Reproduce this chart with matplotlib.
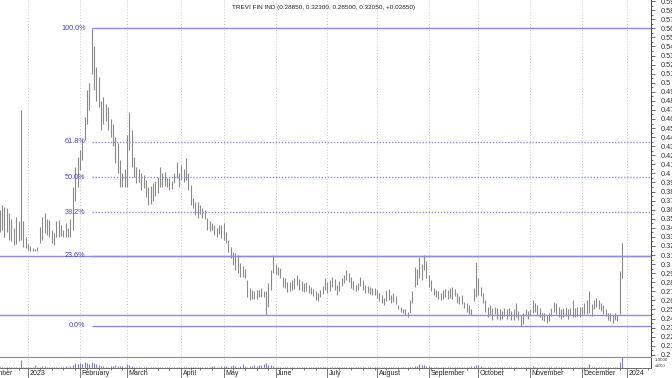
import numpy as np
import pandas as pd
import matplotlib
matplotlib.use('Agg')
import matplotlib.pyplot as plt
import matplotlib.transforms as mtransforms
from matplotlib.ticker import FixedLocator, FuncFormatter, MultipleLocator

plt.rcParams['font.family'] = ['Liberation Sans', 'DejaVu Sans']

title = 'TREVI FIN IND (0.28850, 0.32300, 0.28500, 0.32050, +0.02850)'

# daily highs / lows, one list per month (Dec 14 2022 .. Dec 28 2023)
h_dec22 = [.360, .365, .363, .362, .356, .350, .340, .352, .347, .470, .347, .330]
l_dec22 = [.335, .338, .330, .335, .327, .325, .321, .322, .325, .327, .319, .318]
h_jan = [.322, .320, .318, .317, .319, .341, .352, .356, .350, .349, .338, .334, .348, .349, .343, .338, .345, .340, .350, .385, .407, .418]
l_jan = [.316, .315, .314, .314, .315, .323, .327, .334, .332, .330, .323, .321, .330, .330, .331, .330, .330, .330, .330, .338, .370, .385]
h_feb = [.426, .437, .462, .492, .500, .560, .540, .517, .506, .480, .484, .477, .473, .460, .455, .440, .434, .415, .400, .405]
l_feb = [.404, .415, .437, .455, .470, .510, .492, .480, .473, .448, .455, .458, .448, .440, .430, .412, .400, .385, .385, .385]
h_mar = [.442, .468, .448, .418, .407, .405, .400, .398, .393, .385, .386, .389, .392, .396, .407, .400, .402, .395, .395, .392, .400, .413, .400]
l_mar = [.385, .426, .407, .396, .389, .390, .382, .384, .374, .365, .366, .370, .375, .378, .385, .385, .386, .385, .382, .383, .389, .395, .385]
h_apr = [.409, .405, .417, .400, .387, .373, .369, .368, .365, .362, .360, .351, .347, .345, .343, .340, .343, .343]
l_apr = [.393, .390, .393, .382, .365, .362, .354, .351, .355, .351, .350, .338, .336, .338, .332, .330, .333, .329]
h_may = [.345, .335, .327, .319, .313, .312, .310, .301, .298, .295, .283, .274, .272, .270, .272, .272, .274, .270, .270, .279, .294, .310]
l_may = [.327, .323, .313, .307, .299, .294, .290, .286, .286, .285, .264, .260, .262, .262, .262, .264, .264, .264, .244, .253, .272, .290]
h_jun = [.300, .297, .296, .286, .285, .280, .280, .283, .285, .288, .284, .281, .279, .280, .277, .275, .273, .270, .268, .272, .276, .285]
l_jun = [.289, .288, .285, .275, .274, .269, .270, .271, .273, .277, .272, .270, .269, .270, .268, .267, .265, .260, .259, .264, .267, .272]
h_jul = [.280, .282, .286, .284, .277, .281, .285, .288, .294, .290, .286, .281, .277, .279, .286, .283, .277, .276, .275, .274, .274]
l_jul = [.268, .270, .275, .272, .266, .270, .276, .279, .283, .280, .274, .271, .270, .271, .276, .272, .268, .268, .267, .266, .266]
h_aug = [.272, .268, .266, .263, .272, .273, .266, .268, .265, .255, .253, .251, .250, .247, .260, .270, .297, .295, .308, .300, .310, .303]
l_aug = [.263, .259, .257, .255, .259, .260, .257, .258, .256, .250, .247, .246, .244, .242, .246, .257, .275, .277, .285, .282, .294, .285]
h_sep = [.288, .283, .274, .272, .270, .268, .271, .273, .271, .274, .275, .273, .268, .265, .266, .258, .257, .255, .250, .274, .302]
l_sep = [.275, .270, .266, .264, .261, .260, .262, .264, .262, .263, .262, .265, .257, .256, .256, .252, .247, .245, .244, .259, .264]
h_oct = [.285, .275, .268, .260, .253, .255, .252, .253, .252, .250, .248, .252, .250, .252, .248, .250, .257, .248, .244, .246, .250, .248]
l_oct = [.266, .265, .257, .247, .242, .244, .238, .245, .240, .238, .240, .243, .240, .243, .238, .238, .242, .238, .232, .234, .243, .240]
h_nov = [.250, .260, .257, .255, .252, .246, .246, .244, .246, .252, .258, .257, .253, .250, .252, .253, .250, .252, .260, .252, .253, .253]
l_nov = [.244, .246, .247, .243, .242, .238, .237, .235, .237, .243, .247, .245, .242, .240, .242, .243, .240, .244, .242, .242, .243, .242]
h_dec = [.253, .257, .260, .270, .256, .260, .263, .260, .257, .255, .250, .246, .246, .244, .246, .244, .292, .323]
l_dec = [.245, .245, .245, .246, .243, .250, .253, .250, .248, .245, .243, .238, .237, .235, .238, .237, .245, .285]

# volume (relative units)
v_dec22 = [1.0, 1.2, 0.8, 1.0, 1.1, 0.9, 1.0, 1.3, 1.2, 8.0, 1.5, 1.0]
v_jan = [1.2, 1.0, 1.5, 3.0, 1.5, 1.2, 2.5, 2.0, 1.2, 1.0, 1.3, 1.0, 0.8, 1.0, 1.2, 1.5, 2.0, 1.5, 1.8, 3.5, 5.0, 4.0]
v_feb = [5.0, 4.0, 6.0, 5.5, 4.0, 6.0, 5.0, 4.5, 3.0, 2.5, 2.0, 1.5, 1.5, 2.0, 2.5, 3.0, 2.5, 2.0, 2.0, 1.5]
v_mar = [4.5, 3.0, 2.0, 1.5, 1.2, 1.0, 1.0, 1.2, 1.5, 1.0, 0.8, 1.0, 1.2, 1.0, 0.8, 1.0, 1.2, 1.0, 0.8, 1.0, 1.2, 1.5, 1.0]
v_apr = [1.0, 1.2, 1.5, 1.0, 1.2, 1.5, 1.0, 1.2, 1.0, 1.3, 1.5, 1.2, 1.0, 1.8, 2.0, 1.5, 1.2, 2.0]
v_may = [2.0, 2.5, 1.5, 2.0, 3.0, 2.0, 1.5, 2.5, 4.5, 2.0, 1.5, 2.0, 2.5, 3.0, 2.0, 3.5, 3.0, 4.0, 5.0, 3.5, 3.0, 2.0]
v_jun = [1.5, 1.2, 1.0, 1.0, 1.2, 0.8, 1.0, 1.0, 1.2, 1.0, 0.8, 1.0, 0.8, 1.0, 1.0, 0.8, 1.0, 1.2, 1.0, 0.8, 1.0, 1.2]
v_jul = [1.2, 1.0, 1.0, 1.5, 1.0, 0.8, 1.0, 1.2, 1.5, 1.0, 1.0, 0.8, 1.0, 1.0, 0.8, 1.0, 1.0, 0.8, 1.0, 1.0, 0.8]
v_aug = [0.8, 1.0, 1.0, 0.8, 1.0, 0.8, 1.0, 0.8, 1.0, 1.0, 0.8, 1.0, 1.0, 1.2, 1.5, 1.2, 2.0, 2.5, 4.0, 3.0, 3.5, 2.5]
v_sep = [2.0, 1.5, 1.2, 1.0, 1.0, 0.8, 1.0, 1.0, 0.8, 1.0, 1.0, 0.8, 1.0, 1.2, 1.0, 1.5, 1.2, 1.5, 2.0, 2.5, 3.5]
v_oct = [3.0, 2.0, 1.5, 1.2, 1.0, 1.0, 1.2, 1.0, 0.8, 1.0, 1.0, 1.2, 1.0, 0.8, 1.0, 1.2, 1.0, 1.0, 1.5, 1.2, 1.0, 1.0]
v_nov = [1.0, 2.0, 1.2, 1.0, 0.8, 1.0, 1.0, 0.8, 1.0, 1.0, 1.2, 1.0, 0.8, 1.0, 1.0, 1.2, 0.8, 1.0, 1.0, 0.8, 1.0, 1.0]
v_dec = [1.0, 1.0, 1.2, 4.0, 1.0, 1.2, 1.0, 0.8, 1.0, 1.0, 1.2, 1.0, 1.0, 1.2, 1.0, 1.5, 6.5, 11.0]

fib_levels = [0.0, 0.236, 0.382, 0.5, 0.618, 1.0]
fib_labels = ['0.0%', '23.6%', '38.2%', '50.0%', '61.8%', '100.0%']
support_lines = [0.244, 0.3094]

month_names = {1: '', 2: 'February', 3: 'March', 4: 'April', 5: 'May', 6: 'June', 7: 'July',
               8: 'August', 9: 'September', 10: 'October', 11: 'November', 12: 'December'}

high = np.array(h_dec22 + h_jan + h_feb + h_mar + h_apr + h_may + h_jun + h_jul + h_aug + h_sep + h_oct + h_nov + h_dec)
low = np.array(l_dec22 + l_jan + l_feb + l_mar + l_apr + l_may + l_jun + l_jul + l_aug + l_sep + l_oct + l_nov + l_dec)
vol = np.array(v_dec22 + v_jan + v_feb + v_mar + v_apr + v_may + v_jun + v_jul + v_aug + v_sep + v_oct + v_nov + v_dec)

# trading calendar (Borsa Italiana holidays)
holidays = ['2022-12-26', '2023-04-07', '2023-04-10', '2023-05-01', '2023-08-15',
            '2023-12-25', '2023-12-26', '2024-01-01']
cal = pd.bdate_range('2022-11-01', '2024-01-31', freq='C', holidays=holidays)
start = int(np.searchsorted(cal, pd.Timestamp('2022-12-14')))
x = start + np.arange(len(high))
n = min(len(high), len(low), len(vol))
x, high, low, vol = x[:n], high[:n], low[:n], vol[:n]

month_start = [i for i in range(1, len(cal)) if cal[i].month != cal[i - 1].month]
jan2 = int(np.searchsorted(cal, pd.Timestamp('2023-01-02')))

W, H = 672, 378
fig = plt.figure(figsize=(W / 100, H / 100), dpi=100)
ax = fig.add_axes([0, 1 - 357 / H, 651 / W, 357 / H])
axv = fig.add_axes([0, 1 - 368 / H, 651 / W, 11 / H], sharex=ax)

bar_w = 651 / 276.1
xmin = jan2 - 28 / bar_w
xmax = xmin + 276.1

# price bars
ax.vlines(x, low, high, color='#8a8a8a', lw=0.8)

# fibonacci retracement from the top
i_hi = int(np.argmax(high))
hi, lo = high.max(), low.min()
fib_col = '#8c8ce8'
for lev, lab in zip(fib_levels, fib_labels):
    yv = lo + (hi - lo) * lev
    ls = '-' if lev in (0.0, 1.0, 0.236) else (0, (1, 1.2))
    ax.hlines(yv, x[i_hi], xmax, color=fib_col, lw=1.0, linestyles=ls)
    ax.text(x[i_hi] - 2.6, yv, lab, ha='right', va='center', fontsize=5.2, color='#4444cc')
for yv in support_lines:
    ax.axhline(yv, color=fib_col, lw=1.0)

ax.set_xlim(xmin, xmax)
ax.set_ylim(0.1976, 0.5912)
ax.xaxis.set_major_locator(FixedLocator(month_start))
ax.grid(axis='x', color='#c8c8c8', ls=(0, (1, 2)), lw=0.7)
ax.tick_params(axis='x', length=0, labelbottom=False)
ax.yaxis.tick_right()
ax.yaxis.set_major_locator(MultipleLocator(0.01))
ax.yaxis.set_minor_locator(MultipleLocator(0.005))
ax.yaxis.set_major_formatter(FuncFormatter(lambda v, p: f'{v:.2f}'.rstrip('0')))
ax.tick_params(axis='y', labelsize=5.3, length=3, width=0.5, colors='#333333', pad=4)
ax.tick_params(axis='y', which='minor', length=1.5, width=0.5, colors='#333333')
for s in ['left', 'top']:
    ax.spines[s].set_visible(False)
ax.spines['bottom'].set_color('#909090')
ax.spines['right'].set_color('#444444')
ax.spines['right'].set_linewidth(0.7)

fig.text(323.5 / W, 1 - 7 / H, title, ha='center', va='center', fontsize=4.6, color='#222222')

# volume panel
axv.vlines(x, 0, vol, color='#7a7ae8', lw=0.8)
axv.set_ylim(0, 11.2)
axv.grid(axis='x', color='#c8c8c8', ls=(0, (1, 2)), lw=0.7)
axv.set_yticks([])
axv.yaxis.tick_right()
axv.spines['left'].set_visible(False)
axv.spines['top'].set_color('#909090')
axv.spines['bottom'].set_color('#555555')
axv.spines['bottom'].set_linewidth(0.6)
axv.spines['right'].set_color('#444444')
axv.spines['right'].set_linewidth(0.7)
weeks = [i for i in range(1, len(cal)) if cal[i].weekday() < cal[i - 1].weekday()]
axv.xaxis.set_minor_locator(FixedLocator(weeks))
axv.tick_params(axis='x', which='major', length=7.5, width=0.5, color='#444444', labelbottom=False)
axv.tick_params(axis='x', which='minor', length=1.5, width=0.5, color='#444444')
axv.text(1.006, 0.75, '1.0000', transform=axv.transAxes, fontsize=3.2, color='#333333', va='center')
axv.text(1.006, 0.2, 'x1000', transform=axv.transAxes, fontsize=2.9, color='#333333', va='center')

tr = mtransforms.blended_transform_factory(axv.transData, fig.transFigure)
for i in month_start:
    d = cal[i]
    lab = str(d.year) if d.month == 1 else month_names[d.month]
    axv.text(i + 0.7, 1 - 373.5 / H, lab, transform=tr, ha='left', va='center',
             fontsize=5, color='#222222', clip_on=False)

fig.savefig('out.png', dpi=100)
